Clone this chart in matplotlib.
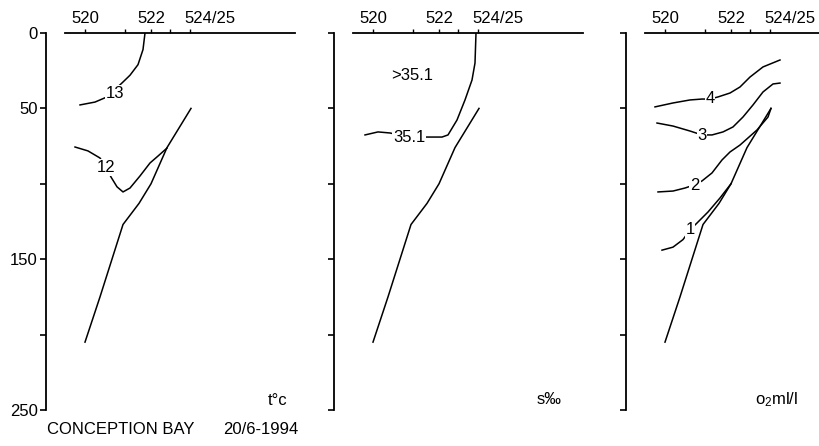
import numpy as np
import matplotlib
matplotlib.use('Agg')
import matplotlib.pyplot as plt
from matplotlib.transforms import ScaledTranslation

plt.rcParams['font.family'] = ['Liberation Sans', 'DejaVu Sans']
plt.rcParams['mathtext.default'] = 'regular'

# stations along the section, distance from st. 520
stations = ['520', '521', '522', '523', '524/25']
station_dist = [0.0, 4.0, 6.6, 8.5, 10.5]
station_ticklabels = ['520', '', '522', '', '524/25']

depth_ticks = [0, 50, 100, 150, 200, 250]
depth_ticklabels = ['0', '50', '', '150', '', '250']

# sea bed under the section
bottom_dist = [0.0, 1.5, 3.8, 5.4, 6.6, 8.2, 10.6]
bottom_depth = [205, 175, 127, 113, 100, 76, 50]

# temperature (deg C)
temp_levels = [13, 12]
t13_dist = [-0.5, 1.0, 2.2, 3.0, 3.8, 4.5, 5.3, 5.8, 6.0]
t13_depth = [47.7, 45.8, 42.4, 37.5, 32.5, 28, 21, 11, 0]
t12_dist = [-1.0, 0.3, 1.5, 2.1, 2.6, 3.2, 3.8, 4.5, 5.5, 6.5, 7.3, 8.2]
t12_depth = [75.6, 78.2, 82.9, 88.9, 95.5, 102, 105.4, 102.8, 94.8, 86.2, 81.6, 76.3]
temp_label_dist = [3.0, 2.1]
temp_label_depth = [40, 89]

# salinity (permille)
sal_levels = [35.1]
s351_dist = [-0.8, 0.5, 1.7, 3.6, 5.9, 6.9, 7.5, 8.4, 9.2, 9.9, 10.2, 10.3]
s351_depth = [67.6, 65.6, 66.3, 69, 69, 69, 67.6, 57.7, 44.4, 31.2, 19.9, 0]
sal_label_dist = [3.6]
sal_label_depth = [69]
sal_above_dist, sal_above_depth = 3.9, 28

# dissolved oxygen (ml/l)
oxy_levels = [4, 3, 2, 1]
o4_dist = [-1.0, 0.8, 2.5, 3.7, 4.5, 5.3, 6.5, 7.5, 8.5, 9.8, 11.5]
o4_depth = [49, 46.4, 44.4, 43.8, 43.8, 42.4, 39.8, 35.8, 29.2, 22.5, 17.9]
o3_dist = [-0.8, 0.8, 2.5, 3.7, 4.7, 5.8, 6.8, 7.8, 8.8, 9.8, 10.8, 11.5]
o3_depth = [59.7, 61.7, 65, 67.6, 67.6, 65.6, 62.3, 55.7, 47.7, 39.1, 33.8, 33.2]
o2_dist = [-0.7, 0.8, 2.0, 2.9, 3.7, 4.7, 5.7, 6.5, 7.5, 9.2, 10.3, 10.6]
o2_depth = [105.4, 104.8, 102.8, 100.8, 98.1, 92.8, 84.2, 78.9, 74.3, 64.3, 55.7, 50]
o1_dist = [-0.3, 0.8, 1.8, 2.5, 3.2, 4.3, 5.5, 6.6]
o1_depth = [144, 142, 137, 130.6, 126, 118.7, 109.4, 100]
oxy_label_dist = [4.5, 3.7, 3.0, 2.5]
oxy_label_depth = [43.4, 68.3, 100.8, 130.6]

W, H = 819, 446
fig = plt.figure(figsize=(W / 100, H / 100), dpi=100)

panel_left = [46, 334, 626]
top_px, bot_px, width_px = 33, 410, 249

panels = [
    dict(curves=[(t13_dist, t13_depth), (t12_dist, t12_depth)],
         labels=[str(v) for v in temp_levels],
         lx=temp_label_dist, lz=temp_label_depth,
         name='t°c', name_xy=(19.3, 244)),
    dict(curves=[(s351_dist, s351_depth)],
         labels=[str(v) for v in sal_levels],
         lx=sal_label_dist, lz=sal_label_depth,
         name='s‰', name_xy=(17.6, 243)),
    dict(curves=[(o4_dist, o4_depth), (o3_dist, o3_depth),
                 (o2_dist, o2_depth), (o1_dist, o1_depth)],
         labels=[str(v) for v in oxy_levels],
         lx=oxy_label_dist, lz=oxy_label_depth,
         name='o$_2$ml/l', name_xy=(11.2, 243)),
]

for i, p in enumerate(panels):
    ax = fig.add_axes([panel_left[i] / W, (H - bot_px) / H,
                       width_px / W, (bot_px - top_px) / H])
    ax.set_xlim(-3.9, 21.0)
    ax.set_ylim(250, 0)
    ax.patch.set_alpha(0)

    for s in ['right', 'bottom']:
        ax.spines[s].set_visible(False)
    ax.spines['left'].set_linewidth(1.3)
    ax.spines['top'].set_linewidth(1.3)
    ax.spines['top'].set_bounds(-2.05, 21.0)

    ax.xaxis.set_ticks_position('top')
    ax.set_xticks(station_dist)
    ax.set_xticklabels(station_ticklabels)
    ax.tick_params(axis='x', direction='out', length=3, width=1, pad=2,
                   labelsize=12)
    last = ax.get_xticklabels()[-1]
    last.set_horizontalalignment('left')
    last.set_transform(last.get_transform()
                       + ScaledTranslation(-0.06, 0, fig.dpi_scale_trans))

    ax.set_yticks(depth_ticks)
    ax.set_yticklabels(depth_ticklabels if i == 0 else [''] * len(depth_ticks))
    ax.tick_params(axis='y', direction='out', length=4, width=1.2, pad=2,
                   labelsize=12)

    ax.plot(bottom_dist, bottom_depth, color='black', lw=1.1)
    for (cx, cz) in p['curves']:
        ax.plot(cx, cz, color='black', lw=1.1)
    for txt, x, z in zip(p['labels'], p['lx'], p['lz']):
        ax.text(x, z, txt, fontsize=12, ha='center', va='center', zorder=5,
                bbox=dict(facecolor='white', edgecolor='none', pad=0.6))
    if i == 1:
        ax.text(sal_above_dist, sal_above_depth, f'>{sal_levels[0]}',
                fontsize=12, ha='center', va='center')

    ax.text(*p['name_xy'], p['name'], fontsize=12, ha='center', va='center')

fig.text(47 / W, 1 - 430 / H, 'CONCEPTION BAY', fontsize=12, va='center')
fig.text(223 / W, 1 - 430 / H, '20/6-1994', fontsize=12, va='center')

fig.savefig('out.png', dpi=100, facecolor='white')
